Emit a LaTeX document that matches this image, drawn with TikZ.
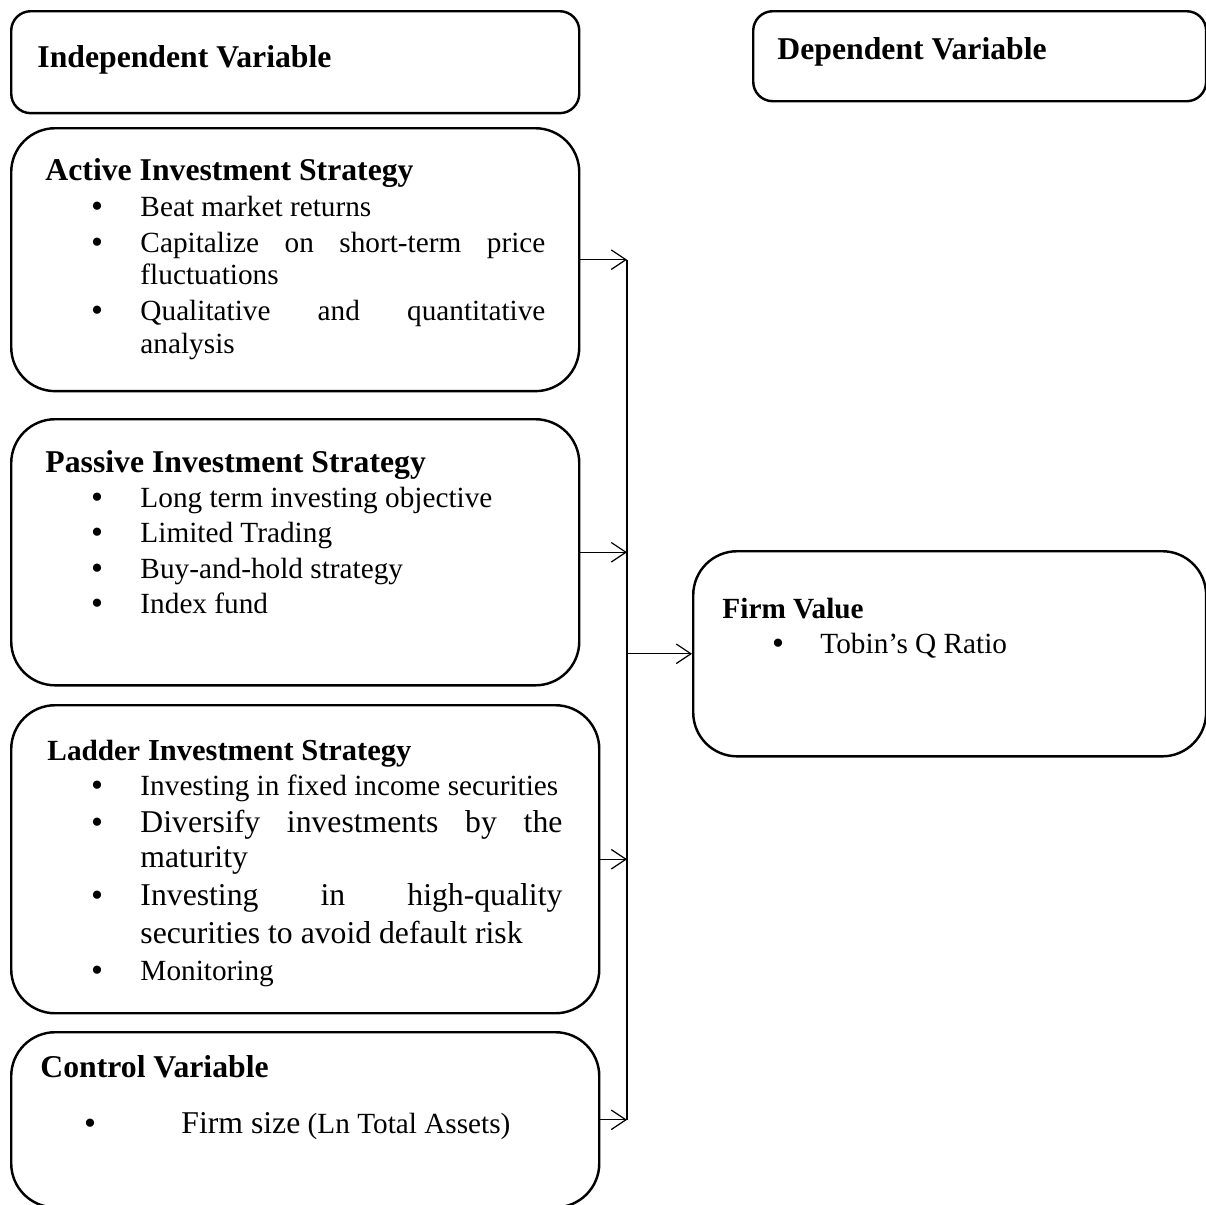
\documentclass[tikz,border=0pt]{standalone}
\usepackage{fontspec}
\setmainfont{Liberation Serif}
\usetikzlibrary{arrows.meta}

\tikzset{
  box/.style={draw, line width=1pt, rounded corners=18pt, anchor=north west, inner sep=0pt},
  smallbox/.style={box, rounded corners=8pt},
  hd/.style={anchor=base west, inner sep=0pt, font=\bfseries\fontsize{13}{15}\selectfont},
  tx/.style={anchor=base west, inner sep=0pt, font=\fontsize{12}{14}\selectfont},
  txl/.style={anchor=base west, inner sep=0pt, font=\fontsize{13}{15}\selectfont},
  bul/.style={anchor=base, inner sep=0pt, yshift=-0.8pt, font=\fontsize{14}{14}\selectfont},
  arr/.style={-{Straight Barb[length=6pt,width=8pt]}, line width=0.5pt}
}

\begin{document}
\begin{tikzpicture}[x=0.41pt,y=-0.41pt]
	\useasboundingbox (0,0) rectangle (1206,1205);
	\coordinate (bus) at (627,0);

    % 标题框
    \node[smallbox, minimum width=232.9pt, minimum height=41.8pt] (ind) at (10,10) {};
    \node[hd] (indt) at (37,67) {Independent Variable};
    \node[smallbox, minimum width=185.7pt, minimum height=36.9pt] (dep) at (752,10) {};
    \node[hd] (dept) at (777,59) {Dependent Variable};

    % Active
    \node[box, minimum width=232.9pt, minimum height=107.8pt] (act) at (10,127) {};
    \node[hd] (actt) at (45,180) {Active Investment Strategy};
    \node[bul] (ab1) at (97,216) {\textbullet};
    \node[tx] (a1) at (140,216) {Beat market returns};
    \node[bul] (ab2) at (97,252) {\textbullet};
    \node[tx] (a2) at (140,252) {\makebox[166pt][s]{Capitalize on short-term price}};
    \node[tx] (a3) at (140,284) {fluctuations};
    \node[bul] (ab3) at (97,320) {\textbullet};
    \node[tx] (a4) at (140,320) {\makebox[166pt][s]{Qualitative and quantitative}};
    \node[tx] (a5) at (140,353) {analysis};

    % Passive
    \node[box, minimum width=232.9pt, minimum height=109.1pt] (pas) at (10,418) {};
    \node[hd] (past) at (45,472) {Passive Investment Strategy};
    \node[bul] (pb1) at (97,507) {\textbullet};
    \node[tx] (p1) at (140,507) {Long term investing objective};
    \node[bul] (pb2) at (97,542) {\textbullet};
    \node[tx] (p2) at (140,542) {Limited Trading};
    \node[bul] (pb3) at (97,578) {\textbullet};
    \node[tx] (p3) at (140,578) {Buy-and-hold strategy};
    \node[bul] (pb4) at (97,613) {\textbullet};
    \node[tx] (p4) at (140,613) {Index fund};

    % Ladder
    \node[box, minimum width=241.1pt, minimum height=126.3pt] (lad) at (10,704) {};
    \node[hd] (ladt) at (47,760) {{\fontsize{12}{14}\selectfont Ladder} {\fontsize{12.5}{14}\selectfont Investment Strategy}};
    \node[bul] (lb1) at (97,795) {\textbullet};
    \node[tx] (l1) at (140,795) {Investing in fixed income securities};
    \node[bul] (lb2) at (97,832) {\textbullet};
    \node[txl] (l2) at (140,832) {\makebox[173pt][s]{Diversify investments by the}};
    \node[txl] (l3) at (140,867) {maturity};
    \node[bul] (lb3) at (97,905) {\textbullet};
    \node[txl] (l4) at (140,905) {\makebox[173pt][s]{Investing in high-quality}};
    \node[txl] (l5) at (140,943) {securities to avoid default risk};
    \node[bul] (lb4) at (97,980) {\textbullet};
    \node[tx] (l6) at (140,980) {Monitoring};

    % Control
    \node[box, minimum width=241.1pt, minimum height=71.8pt] (ctl) at (10,1031) {};
    \node[hd] (ctlt) at (40,1077) {Control Variable};
    \node[bul] (cb1) at (90,1133) {\textbullet};
    \node[tx] (c1) at (181,1133) {{\fontsize{13}{15}\selectfont Firm size} (Ln Total Assets)};

    % Firm Value
    \node[box, minimum width=210.3pt, minimum height=84.1pt] (firm) at (692,550) {};
    \node[hd, font=\bfseries\fontsize{12}{14}\selectfont] (firmt) at (722,618) {Firm Value};
    \node[bul] (fb1) at (778,653) {\textbullet};
    \node[tx] (f1) at (820,653) {Tobin’s Q Ratio};

    % 箭头
    \draw[line width=0.5pt] (act.east -| bus) -- (ctl.east -| bus);
    \draw[arr] (act.east) -- (act.east -| bus);
    \draw[arr] (pas.east) -- (pas.east -| bus);
    \draw[arr] (lad.east) -- (lad.east -| bus);
    \draw[arr] (ctl.east) -- (ctl.east -| bus);
    \draw[arr] (firm.west -| bus) -- (firm.west);

\end{tikzpicture}
\end{document}
